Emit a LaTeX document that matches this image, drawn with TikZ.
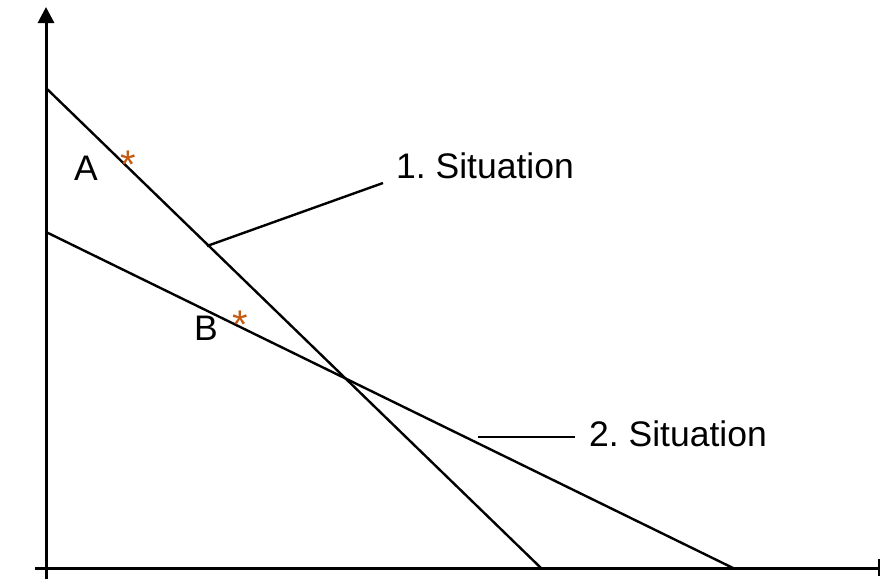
\documentclass[tikz,border=0pt]{standalone}
\usepackage{fontspec}
\setmainfont{Liberation Sans}
\usetikzlibrary{arrows.meta}
\definecolor{astorange}{HTML}{C65A11}
\frenchspacing
\tikzset{
  axis/.style={line width=3pt},
  curve/.style={line width=2.4pt},
  leader/.style={line width=2.4pt},
  lbl/.style={font=\fontsize{35.5}{40}\selectfont, inner sep=0pt, anchor=base west},
  star/.style={text=astorange, font=\fontsize{40}{40}\selectfont, inner sep=0pt, anchor=base west}
}
\begin{document}
\begin{tikzpicture}[x=1pt,y=-1pt]
\useasboundingbox (0,0) rectangle (880,579);
% axes
\coordinate (ybot) at (46,579);
\coordinate (ytop) at (46,7);
\coordinate (xl) at (35,568);
\coordinate (xr) at (879,568);
\draw[axis,-{Triangle[length=16pt,width=16pt]}] (ybot) -- (ytop);
\draw[axis] (xl) -- (xr);
\draw[line width=1.6pt] (879,559) -- (879,576);
% lines
\coordinate (l1a) at (46,88);
\coordinate (l1b) at (541,568);
\coordinate (l2a) at (46,232);
\coordinate (l2b) at (733,568);
\draw[curve] (l1a) -- (l1b);
\draw[curve] (l2a) -- (l2b);
% labels
\node[lbl] (s1) at (396,178) {1. Situation};
\node[lbl] (s2) at (589,446) {2. Situation};
\coordinate (p1) at (207,246);
\coordinate (q1) at (383,183);
\coordinate (p2) at (478,437);
\coordinate (q2) at (575,437);
\draw[leader] (p1) -- (q1);
\draw[leader] (p2) -- (q2);
\node[lbl] (A) at (74,180) {A};
\node[lbl] (B) at (194,340) {B};
\node[star] (sa) at (120,178) {*};
\node[star] (sb) at (232,338) {*};
\end{tikzpicture}
\end{document}
